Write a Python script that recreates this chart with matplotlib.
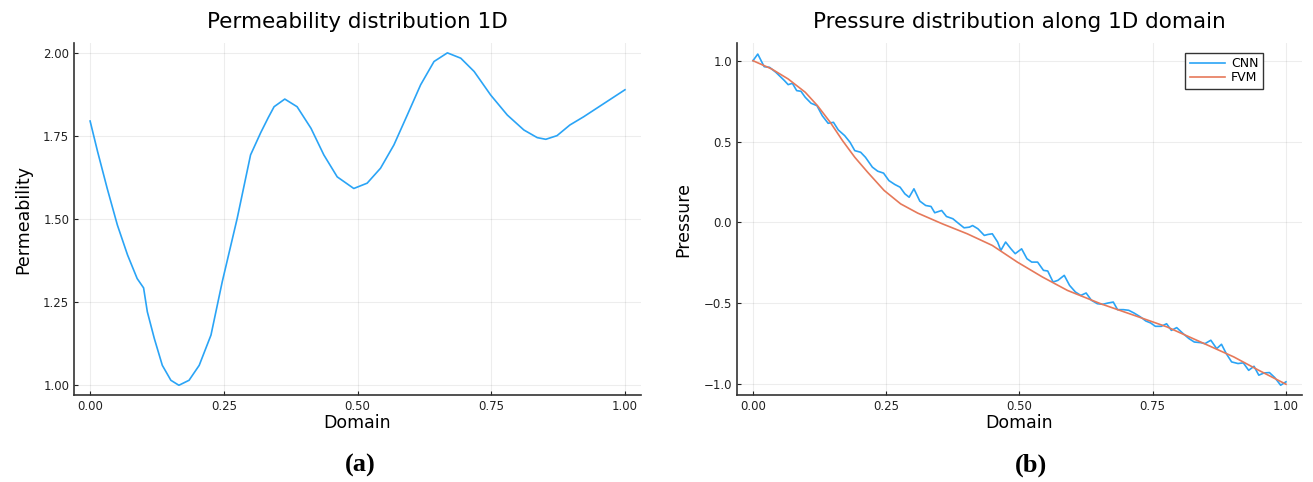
import numpy as np
import matplotlib.pyplot as plt

# permeability field along the 1D domain
perm_x = [0.0, 0.014, 0.032, 0.051, 0.070, 0.088, 0.100, 0.107, 0.120, 0.135,
          0.151, 0.166, 0.185, 0.204, 0.226, 0.247, 0.275, 0.300, 0.319, 0.333,
          0.344, 0.364, 0.387, 0.413, 0.437, 0.462, 0.493, 0.518, 0.543, 0.568,
          0.593, 0.618, 0.643, 0.668, 0.693, 0.718, 0.749, 0.780, 0.811, 0.836,
          0.852, 0.873, 0.897, 0.923, 0.961, 1.0]
perm_k = [1.795, 1.703, 1.592, 1.482, 1.392, 1.321, 1.293, 1.221, 1.141, 1.060,
          1.015, 1.000, 1.015, 1.060, 1.151, 1.311, 1.502, 1.693, 1.760, 1.805,
          1.838, 1.861, 1.838, 1.773, 1.693, 1.627, 1.592, 1.608, 1.653, 1.723,
          1.813, 1.904, 1.974, 2.000, 1.984, 1.944, 1.873, 1.813, 1.768, 1.745,
          1.740, 1.751, 1.783, 1.808, 1.848, 1.889]

# FVM reference solution
fvm_x = [0.0, 0.035, 0.066, 0.098, 0.121, 0.145, 0.168, 0.191, 0.215, 0.246,
         0.277, 0.309, 0.355, 0.402, 0.449, 0.496, 0.543, 0.590, 0.652, 0.715,
         0.777, 0.840, 0.902, 0.949, 1.0]
fvm_p = [1.0, 0.949, 0.887, 0.805, 0.722, 0.619, 0.506, 0.403, 0.311, 0.198,
         0.115, 0.058, -0.008, -0.070, -0.142, -0.245, -0.337, -0.420, -0.502,
         -0.574, -0.646, -0.739, -0.831, -0.914, -1.0]

# CNN prediction
cnn_x = [0.0, 0.009, 0.021, 0.031, 0.043, 0.059, 0.066, 0.074, 0.082, 0.090,
         0.098, 0.109, 0.120, 0.130, 0.141, 0.151, 0.160, 0.172, 0.182, 0.191,
         0.202, 0.211, 0.224, 0.234, 0.245, 0.255, 0.266, 0.276, 0.285, 0.293,
         0.302, 0.313, 0.324, 0.334, 0.341, 0.354, 0.363, 0.375, 0.385, 0.396,
         0.406, 0.412, 0.422, 0.434, 0.441, 0.449, 0.459, 0.465, 0.474, 0.484,
         0.492, 0.504, 0.514, 0.523, 0.534, 0.545, 0.553, 0.563, 0.572, 0.584,
         0.594, 0.605, 0.615, 0.625, 0.635, 0.646, 0.656, 0.666, 0.676, 0.684,
         0.695, 0.705, 0.715, 0.727, 0.737, 0.746, 0.755, 0.766, 0.776, 0.785,
         0.795, 0.807, 0.818, 0.828, 0.840, 0.848, 0.859, 0.870, 0.879, 0.888,
         0.898, 0.910, 0.920, 0.930, 0.940, 0.949, 0.959, 0.969, 0.979, 0.990,
         1.0]
cnn_p = [1.0, 1.041, 0.963, 0.959, 0.928, 0.877, 0.852, 0.860, 0.815, 0.811,
         0.774, 0.737, 0.722, 0.660, 0.613, 0.619, 0.572, 0.537, 0.496, 0.444,
         0.434, 0.403, 0.342, 0.317, 0.305, 0.259, 0.235, 0.218, 0.177, 0.156,
         0.208, 0.132, 0.105, 0.099, 0.060, 0.074, 0.037, 0.023, -0.004, -0.033,
         -0.029, -0.019, -0.039, -0.080, -0.074, -0.070, -0.121, -0.173, -0.121, -0.163,
         -0.193, -0.163, -0.224, -0.245, -0.245, -0.296, -0.300, -0.368, -0.358, -0.327,
         -0.389, -0.430, -0.451, -0.436, -0.481, -0.502, -0.506, -0.498, -0.492, -0.539,
         -0.539, -0.543, -0.560, -0.584, -0.609, -0.621, -0.642, -0.642, -0.626, -0.667,
         -0.650, -0.687, -0.718, -0.739, -0.743, -0.749, -0.728, -0.780, -0.753, -0.811,
         -0.862, -0.872, -0.868, -0.914, -0.889, -0.944, -0.930, -0.928, -0.959, -1.006,
         -0.985]

blue = '#2AA4F6'
orange = '#E6795A'

fig = plt.figure(figsize=(13.13, 4.82), dpi=100)
ax1 = fig.add_axes([0.0564, 0.180, 0.4318, 0.731])
ax2 = fig.add_axes([0.5613, 0.180, 0.4303, 0.731])


def julia_style(ax):
    for s in ['top', 'right']:
        ax.spines[s].set_visible(False)
    for s in ['left', 'bottom']:
        ax.spines[s].set_linewidth(1.2)
        ax.spines[s].set_color('#333333')
    ax.grid(True, color='black', alpha=0.07, lw=0.8)
    ax.tick_params(direction='in', length=3, labelsize=8.5, colors='#222222')
    ax.set_axisbelow(True)


ax1.plot(perm_x, perm_k, color=blue, lw=1.2)
ax1.set_xlim(-0.03, 1.03)
ax1.set_ylim(0.97, 2.03)
ax1.set_xticks([0, 0.25, 0.5, 0.75, 1.0])
ax1.set_yticks([1.0, 1.25, 1.5, 1.75, 2.0])
ax1.xaxis.set_major_formatter(plt.FormatStrFormatter('%.2f'))
ax1.yaxis.set_major_formatter(plt.FormatStrFormatter('%.2f'))
ax1.set_title('Permeability distribution 1D', fontsize=15.5, pad=11)
ax1.set_xlabel('Domain', fontsize=12.5, labelpad=1)
ax1.set_ylabel('Permeability', fontsize=12.5, labelpad=8)
julia_style(ax1)

ax2.plot(cnn_x, cnn_p, color=blue, lw=1.2, label='CNN')
ax2.plot(fvm_x, fvm_p, color=orange, lw=1.2, label='FVM')
ax2.set_xlim(-0.03, 1.03)
ax2.set_ylim(-1.068, 1.11)
ax2.set_xticks([0, 0.25, 0.5, 0.75, 1.0])
ax2.set_yticks([-1.0, -0.5, 0.0, 0.5, 1.0])
ax2.xaxis.set_major_formatter(plt.FormatStrFormatter('%.2f'))
ax2.yaxis.set_major_formatter(plt.FuncFormatter(lambda v, p: ('%.1f' % v).replace('-', '\u2212')))
ax2.set_title('Pressure distribution along 1D domain', fontsize=15.5, pad=11)
ax2.set_xlabel('Domain', fontsize=12.5, labelpad=1)
ax2.set_ylabel('Pressure', fontsize=12.5, labelpad=8)
julia_style(ax2)
leg = ax2.legend(loc='upper right', fontsize=9, fancybox=False, framealpha=1,
                 handlelength=2.8, handletextpad=0.5, borderpad=0.35, labelspacing=0.1,
                 bbox_to_anchor=(0.931, 0.972), borderaxespad=0)
leg.get_frame().set_edgecolor('#333333')
leg.get_frame().set_linewidth(1.0)

fig.text(0.274, 0.022, '(a)', fontsize=19, fontweight='bold', family='Liberation Serif', ha='center')
fig.text(0.785, 0.022, '(b)', fontsize=19, fontweight='bold', family='Liberation Serif', ha='center')

fig.savefig('out.png', dpi=100)
